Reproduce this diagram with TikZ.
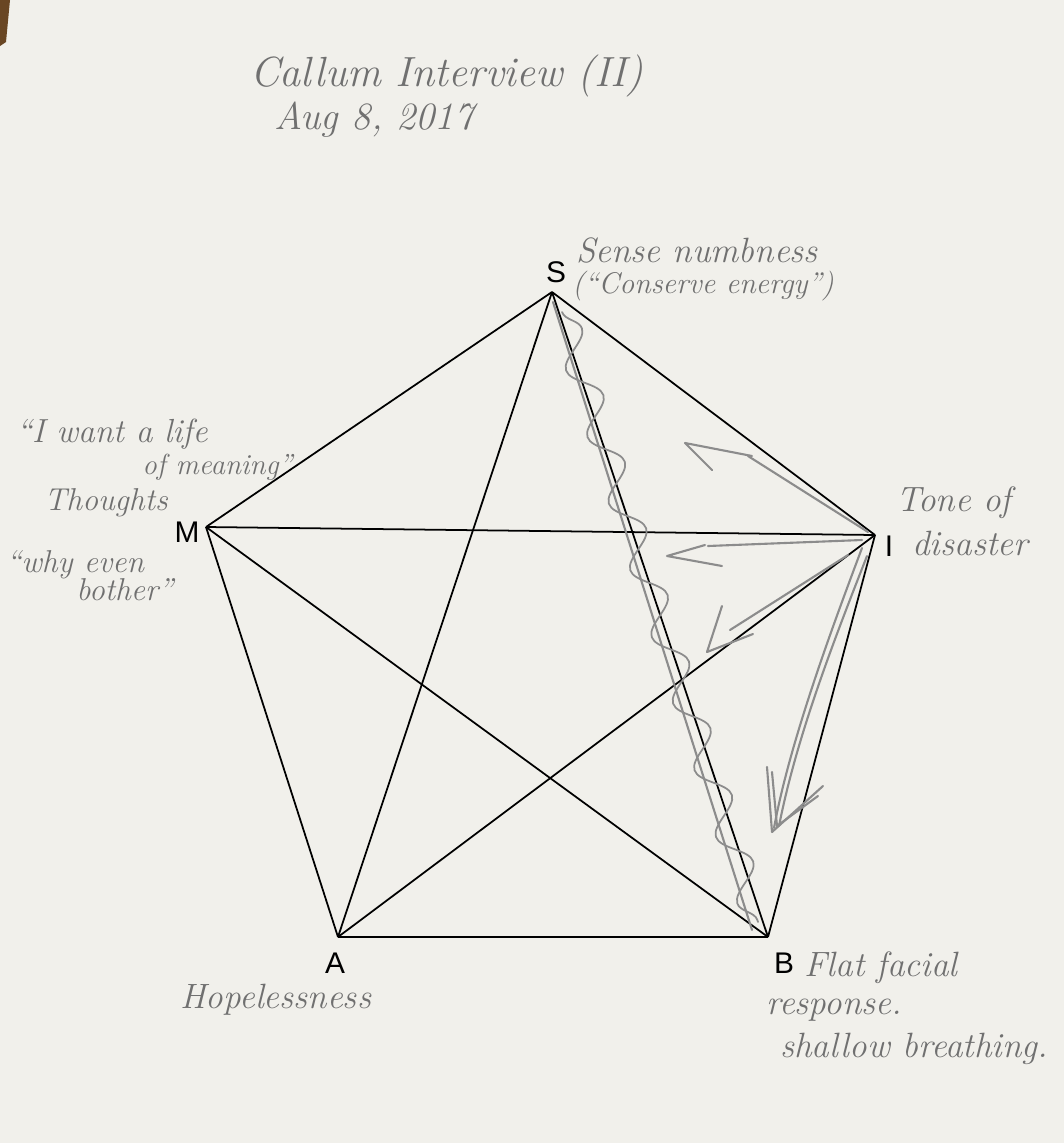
\documentclass[tikz,border=0pt]{standalone}
\usepackage{fontspec}
\newfontfamily\printsf{Liberation Sans}
\usetikzlibrary{decorations.pathmorphing}
\definecolor{paper}{RGB}{241,240,235}
\definecolor{pencil}{RGB}{112,112,112}
\definecolor{trace}{RGB}{140,140,140}
\tikzset{
  vlabel/.style={font=\printsf\fontsize{17}{20}\selectfont,text=black,inner sep=0pt},
  hand/.style={font=\itshape\fontsize{20}{24}\selectfont,text=pencil,inner sep=0pt,anchor=west},
  edge/.style={black,line width=1pt},
  scrawl/.style={trace,line width=1.2pt,line cap=round,line join=round},
}
\begin{document}
\begin{tikzpicture}[x=0.02cm,y=-0.02cm]
  \fill[paper] (0,0) rectangle (1064,1143);
  \useasboundingbox (0,0) rectangle (1064,1143);
  \fill[brown!55!black] (0,0) -- (10,0) -- (6,42) -- (0,46) -- cycle;
  % heading
  \node[hand,font=\itshape\fontsize{24}{28}\selectfont] (title) at (250,76) {Callum Interview (II)};
  \node[hand,font=\itshape\fontsize{22}{26}\selectfont] (date) at (274,120) {Aug 8, 2017};
  % corners of the pentagon
  \coordinate (S) at (552,292);
  \coordinate (I) at (875,535);
  \coordinate (B) at (768,937);
  \coordinate (A) at (338,937);
  \coordinate (M) at (206,527);
  \node[vlabel] (lS) at (556,272) {S};
  \node[vlabel] (lI) at (889,546) {I};
  \node[vlabel] (lB) at (784,963) {B};
  \node[vlabel] (lA) at (335,963) {A};
  \node[vlabel] (lM) at (187,532) {M};
  % every pair joined
  \foreach \u/\v in {S/I,I/B,B/A,A/M,M/S,S/B,S/A,M/I,M/B,A/I}
    \draw[edge] (\u) -- (\v);
  % notes at the corners
  \node[hand] (sense) at (576,250) {Sense numbness};
  \node[hand,font=\itshape\fontsize{17}{20}\selectfont] (conserve) at (572,286) {(“Conserve energy”)};
  \node[hand,font=\itshape\fontsize{19}{22}\selectfont] (want) at (16,434) {“I want a life};
  \node[hand,font=\itshape\fontsize{16.5}{20}\selectfont] (meaning) at (142,467) {of meaning”};
  \node[hand,font=\itshape\fontsize{18}{22}\selectfont] (thoughts) at (44,503) {Thoughts};
  \node[hand,font=\itshape\fontsize{18}{22}\selectfont] (why) at (6,565) {“why even};
  \node[hand,font=\itshape\fontsize{18}{22}\selectfont] (bother) at (76,590) {bother”};
  \node[hand] (tone) at (896,503) {Tone of};
  \node[hand] (disaster) at (912,543) {disaster};
  \node[hand] (flat) at (804,968) {Flat facial};
  \node[hand] (response) at (766,1010) {response.};
  \node[hand] (shallow) at (780,1049) {shallow breathing.};
  \node[hand] (hope) at (180,1000) {Hopelessness};
  % pencil trace down S--B
  \draw[scrawl] (553,302) -- (752,930);
  \draw[scrawl,line width=1pt,decorate,decoration={snake,amplitude=0.28cm,segment length=1.4cm}]
    (562,312) -- (758,922);
  % pencil arrows leaving I
  \draw[scrawl] (868,532) -- (748,456);
  \draw[scrawl] (752,456) -- (685,443) -- (712,470);
  \draw[scrawl] (862,540) -- (708,546);
  \draw[scrawl] (705,545) -- (667,556) -- (722,566);
  \draw[scrawl] (848,555) -- (730,630);
  \draw[scrawl] (722,606) -- (707,652) -- (753,634);
  \draw[scrawl] (862,548) .. controls (835,620) and (790,740) .. (774,828);
  \draw[scrawl] (867,556) .. controls (830,650) and (796,740) .. (779,826);
  \draw[scrawl] (767,767) -- (772,832) -- (823,786);
  \draw[scrawl] (772,772) -- (777,826) -- (818,796);
\end{tikzpicture}
\end{document}
